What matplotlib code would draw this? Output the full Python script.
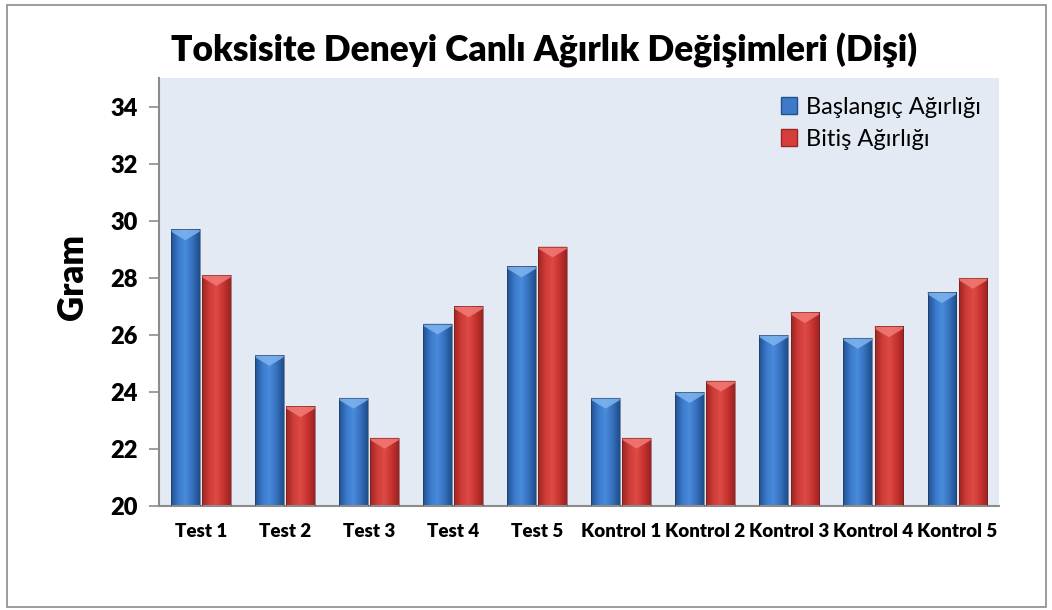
import numpy as np
import matplotlib
matplotlib.use('Agg')
import matplotlib.pyplot as plt
from matplotlib.colors import LinearSegmentedColormap
from matplotlib.patches import Rectangle, Polygon, Patch

plt.rcParams['font.family'] = ['Lato', 'DejaVu Sans']

# data
categories = ['Test 1', 'Test 2', 'Test 3', 'Test 4', 'Test 5',
              'Kontrol 1', 'Kontrol 2', 'Kontrol 3', 'Kontrol 4', 'Kontrol 5']
baslangic = [29.7, 25.3, 23.8, 26.4, 28.4, 23.8, 24.0, 26.0, 25.9, 27.5]
bitis = [28.1, 23.5, 22.4, 27.0, 29.1, 22.4, 24.4, 26.8, 26.3, 28.0]
yticks = [20, 22, 24, 26, 28, 30, 32, 34]

series_names = ['Başlangıç Ağırlığı', 'Bitiş Ağırlığı']

# gradient colours (edge, centre, edge) and bevel colour
blue_cm = LinearSegmentedColormap.from_list('b', ['#21508f', '#3a7acb', '#4a8bdb', '#3570bd', '#1f4d8b'])
red_cm = LinearSegmentedColormap.from_list('r', ['#9c2624', '#cf3c38', '#de4a46', '#c8332f', '#982422'])
blue_top = '#7fb4ef'
red_top = '#f27b76'
heavy = 'heavy'

fig = plt.figure(figsize=(10.52, 6.10), dpi=100)
fig.patches.append(Rectangle((0.007, 0.005), 0.987, 0.987, transform=fig.transFigure,
                             fill=False, edgecolor='#8c8c8c', linewidth=1.2))

ax = fig.add_axes([0.151, 0.170, 0.799, 0.702])
ax.set_facecolor('#e3eaf4')

x = np.arange(len(categories))
width = 0.34
offset = 0.185
ymin, ymax = 20, 35
bevel = 0.38
grad = np.linspace(0, 1, 64).reshape(1, -1)


def draw_bars(xs, vals, cmap, topcol, edge):
    bars = ax.bar(xs, np.array(vals) - ymin, width, bottom=ymin, color='none',
                  edgecolor='none', zorder=2)
    for b, v in zip(bars, vals):
        x0 = b.get_x()
        x1 = x0 + b.get_width()
        im = ax.imshow(grad, cmap=cmap, aspect='auto', extent=(x0, x1, ymin, v),
                       zorder=2, interpolation='bicubic')
        im.set_clip_path(b)
        xc = (x0 + x1) / 2
        ax.add_patch(Polygon([(x0, v), (x1, v), (x1, v - 0.08), (xc, v - bevel),
                              (x0, v - 0.08)], closed=True, facecolor=topcol,
                             edgecolor='none', alpha=0.85, zorder=3))
        ax.add_patch(Rectangle((x0, ymin), x1 - x0, v - ymin, fill=False,
                               edgecolor=edge, linewidth=0.6, alpha=0.6, zorder=4))


draw_bars(x - offset, baslangic, blue_cm, blue_top, '#1e3050')
draw_bars(x + offset, bitis, red_cm, red_top, '#6a1a18')

ax.set_xlim(-0.5, len(categories) - 0.5)
ax.set_ylim(ymin, ymax)
ax.set_yticks(yticks)
ax.set_xticks(x)
ax.set_xticklabels(categories, fontsize=13.5, fontweight=heavy)
ax.tick_params(axis='y', labelsize=17, length=7, color='#8c8c8c', width=1.2, pad=8)
for t in ax.get_yticklabels():
    t.set_fontweight(heavy)
ax.tick_params(axis='x', length=0, pad=12)

for s in ['top', 'right']:
    ax.spines[s].set_visible(False)
for s in ['left', 'bottom']:
    ax.spines[s].set_color('#8c8c8c')
    ax.spines[s].set_linewidth(1.5)

ax.set_ylabel('Gram', fontsize=25, fontweight=heavy)
ax.yaxis.set_label_coords(-0.083, 0.535)

fig.text(0.517, 0.918, 'Toksisite Deneyi Canlı Ağırlık Değişimleri (Dişi)',
         fontsize=25.5, fontweight=heavy, ha='center', va='center')

handles = [Patch(facecolor='#3d7bc9', edgecolor='#24528f'),
           Patch(facecolor='#d43f3b', edgecolor='#9c2624')]
leg = ax.legend(handles, series_names, loc='upper right', bbox_to_anchor=(1.0, 1.0),
                frameon=False, fontsize=17, handlelength=0.7, handleheight=0.7,
                handletextpad=0.35, labelspacing=0.45, borderaxespad=0.4)

fig.savefig('out.png', dpi=100, facecolor='white')
